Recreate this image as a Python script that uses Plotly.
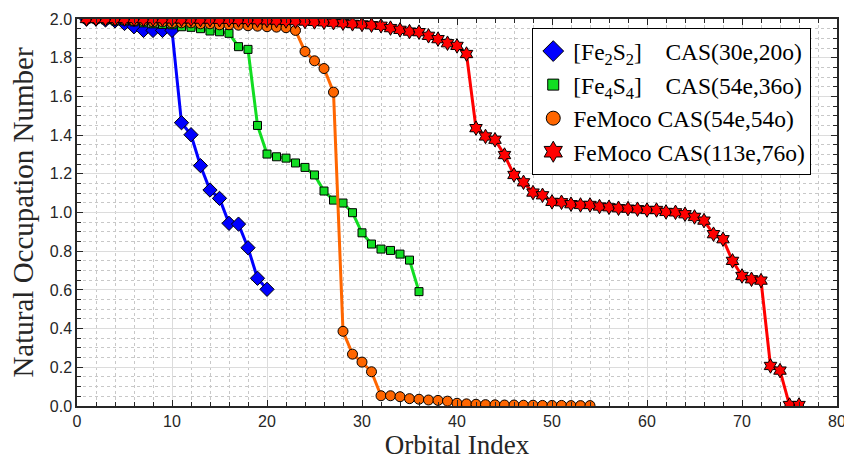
import plotly.graph_objects as go

# ---------------- data ----------------
fe2s2_idx = list(range(1, 21))
fe2s2_occ = [2.000, 2.000, 1.995, 1.990, 1.977, 1.960, 1.941, 1.941, 1.941, 1.941,
             1.464, 1.402, 1.242, 1.116, 1.073, 0.944, 0.940, 0.818, 0.660, 0.603]

fe4s4_idx = list(range(1, 37))
fe4s4_occ = [2.000, 2.000, 1.995, 1.990, 1.990, 1.985, 1.980, 1.975, 1.972, 1.970,
             1.960, 1.957, 1.950, 1.938, 1.934, 1.926, 1.857, 1.843, 1.450, 1.302,
             1.288, 1.281, 1.256, 1.233, 1.194, 1.111, 1.064, 1.049, 0.999, 0.895,
             0.837, 0.811, 0.804, 0.785, 0.754, 0.591]

femoco54_idx = list(range(1, 55))
femoco54_occ = [2.000, 2.000, 2.000, 1.995, 1.995, 1.990, 1.990, 1.985, 1.985, 1.980,
                1.980, 1.980, 1.975, 1.975, 1.970, 1.970, 1.968, 1.965, 1.963, 1.960,
                1.958, 1.955, 1.941, 1.832, 1.784, 1.744, 1.622, 0.386, 0.268, 0.227,
                0.177, 0.053, 0.053, 0.048, 0.038, 0.035, 0.031, 0.029, 0.025, 0.014,
                0.011, 0.009, 0.007, 0.006, 0.005, 0.005, 0.004, 0.004, 0.003, 0.003,
                0.003, 0.002, 0.002, 0.002]

femoco76_idx = list(range(1, 77))
femoco76_occ = [2.000, 2.000, 2.000, 2.000, 2.000, 2.000, 1.999, 1.999, 1.999, 1.998,
                1.998, 1.998, 1.997, 1.997, 1.996, 1.996, 1.995, 1.995, 1.994, 1.993,
                1.992, 1.990, 1.989, 1.987, 1.985, 1.983, 1.981, 1.978, 1.975, 1.972,
                1.968, 1.965, 1.953, 1.944, 1.935, 1.932, 1.913, 1.896, 1.875, 1.861,
                1.819, 1.436, 1.393, 1.376, 1.297, 1.194, 1.156, 1.103, 1.089, 1.055,
                1.053, 1.043, 1.039, 1.039, 1.031, 1.027, 1.022, 1.020, 1.017, 1.013,
                1.013, 1.003, 1.001, 0.991, 0.977, 0.958, 0.888, 0.862, 0.750, 0.672,
                0.655, 0.648, 0.207, 0.183, 0.005, 0.005]

NB = "\u00a0"
series = [
    (fe2s2_idx, fe2s2_occ, "[Fe<sub>2</sub>S<sub>2</sub>]" + NB * 4 + "CAS(30e,20o)", "#0000ff", "diamond", 11, 16),
    (fe4s4_idx, fe4s4_occ, "[Fe<sub>4</sub>S<sub>4</sub>]" + NB * 4 + "CAS(54e,36o)", "#11dd22", "square", 8, 11),
    (femoco54_idx, femoco54_occ, "FeMoco" + NB + "CAS(54e,54o)", "#ff6600", "circle", 10, 14),
    (femoco76_idx, femoco76_occ, "FeMoco" + NB + "CAS(113e,76o)", "#ff0000", "hexagram", 11, 16),
]

serif = "Liberation Serif, Times New Roman, serif"
sans = "Liberation Sans, Arial, Helvetica, sans-serif"

fig = go.Figure()
for x, y, name, col, sym, sz, lsz in series:
    fig.add_trace(go.Scatter(
        x=x, y=y, mode="lines+markers", name=name, showlegend=False,
        line=dict(color=col, width=3),
        marker=dict(symbol=sym, size=sz, color=col, line=dict(color="black", width=1)),
    ))
for x, y, name, col, sym, sz, lsz in series:
    fig.add_trace(go.Scatter(
        x=[None], y=[None], mode="markers", name=name, showlegend=True,
        marker=dict(symbol=sym, size=lsz, color=col, line=dict(color="black", width=1)),
    ))

axis_common = dict(
    showline=True, linecolor="#262626", linewidth=1.5, mirror="ticks",
    ticks="inside", ticklen=6, tickcolor="#262626", tickwidth=1,
    showgrid=True, gridcolor="#dcdcdc", gridwidth=1,
    zeroline=False, automargin=False, ticklabeloverflow="allow",
    tickfont=dict(family=sans, size=16, color="#262626"),
)

fig.update_xaxes(
    range=[0, 80], dtick=10, tick0=0,
    title=dict(text="Orbital Index", font=dict(family=serif, size=27, color="#262626"), standoff=2),
    minor=dict(dtick=2, ticks="inside", ticklen=4, tickcolor="#262626",
               showgrid=True, gridcolor="#c8c8c8", griddash="dot", gridwidth=1),
    **axis_common,
)
fig.update_yaxes(
    range=[0, 2.0], dtick=0.2, tick0=0, tickformat=".1f",
    title=dict(text="Natural Occupation Number", font=dict(family=serif, size=29, color="#262626"), standoff=8),
    minor=dict(dtick=0.05, ticks="inside", ticklen=4, tickcolor="#262626",
               showgrid=True, gridcolor="#c8c8c8", griddash="dot", gridwidth=1),
    **axis_common,
)

fig.update_layout(
    width=844, height=460,
    margin=dict(l=77, r=7, t=19, b=54),
    plot_bgcolor="white", paper_bgcolor="white",
    legend=dict(
        x=0.599, y=0.976, xanchor="left", yanchor="top",
        bgcolor="white", bordercolor="black", borderwidth=1,
        font=dict(family=serif, size=23.5, color="black"),
        itemsizing="trace", itemwidth=30, tracegroupgap=0,
    ),
)

fig.write_html("out.html", config={"displayModeBar": False},
               post_script="document.body.style.margin='0';")
